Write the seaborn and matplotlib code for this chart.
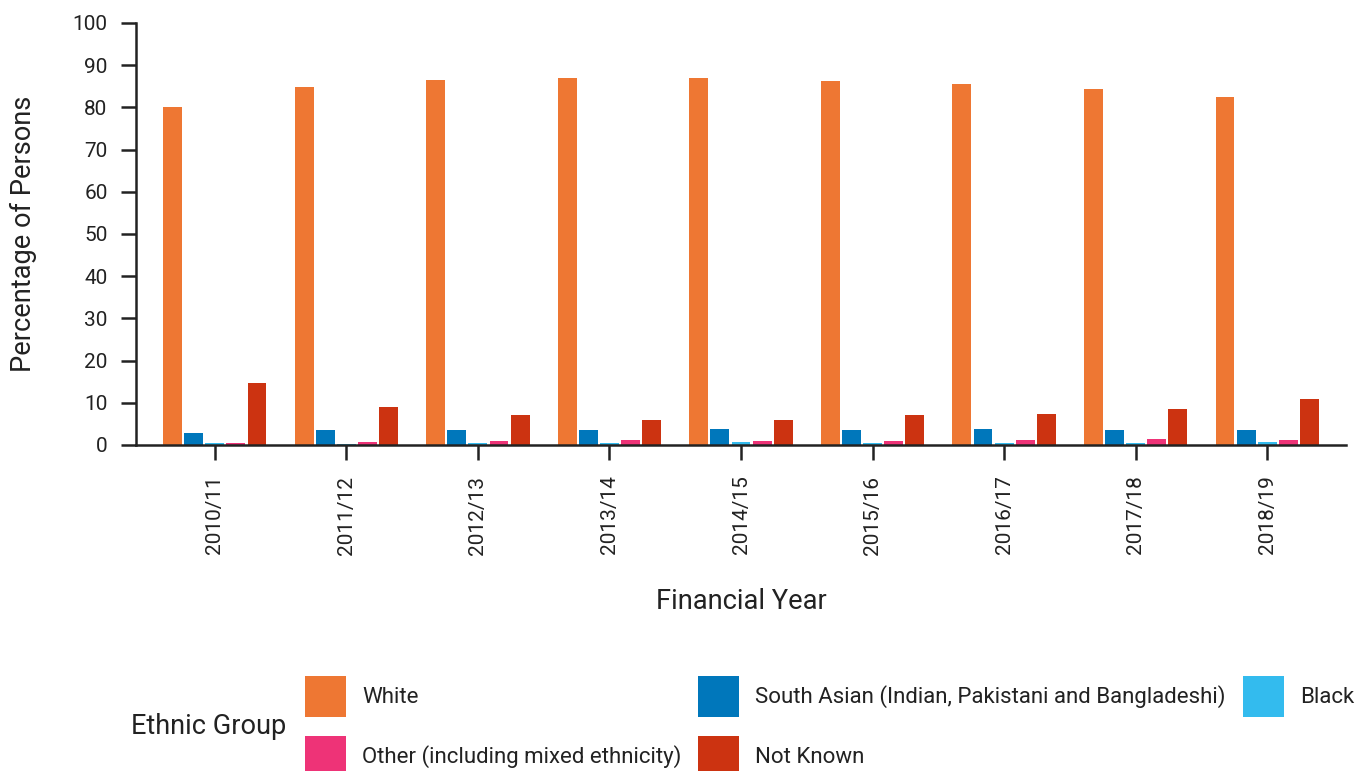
import matplotlib
matplotlib.use("Agg")
import matplotlib.pyplot as plt
import seaborn as sns
import pandas as pd

# ---- data ----
years = ["2010/11", "2011/12", "2012/13", "2013/14", "2014/15",
         "2015/16", "2016/17", "2017/18", "2018/19"]
groups = ["White", "South Asian (Indian, Pakistani and Bangladeshi)", "Black",
          "Other (including mixed ethnicity)", "Not Known"]
white = [80.0, 84.8, 86.4, 86.9, 86.9, 86.2, 85.5, 84.3, 82.4]
south_asian = [2.9, 3.6, 3.6, 3.6, 3.9, 3.6, 3.9, 3.6, 3.6]
black = [0.55, 0.3, 0.55, 0.55, 0.8, 0.55, 0.55, 0.55, 0.8]
other = [0.55, 0.8, 1.0, 1.26, 1.0, 1.0, 1.26, 1.5, 1.26]
not_known = [14.6, 9.1, 7.2, 6.0, 6.0, 7.2, 7.4, 8.6, 10.8]
colors = ["#EE7733", "#0077BB", "#33BBEE", "#EE3377", "#CC3311"]
yticks = [0, 10, 20, 30, 40, 50, 60, 70, 80, 90, 100]

series = [white, south_asian, black, other, not_known]
rows = []
for g, vals in zip(groups, series):
    for y, v in zip(years, vals):
        rows.append({"Financial Year": y, "Ethnic Group": g, "pct": v})
df = pd.DataFrame(rows)

sns.set_style("ticks")
plt.rcParams["font.family"] = ["Roboto", "DejaVu Sans"]
txt = "#222222"
plt.rcParams["text.color"] = txt
plt.rcParams["axes.labelcolor"] = txt
plt.rcParams["xtick.color"] = txt
plt.rcParams["ytick.color"] = txt

fig = plt.figure(figsize=(13.56, 7.71), dpi=100)
ax = fig.add_axes([136 / 1356, 1 - 445 / 771, 1210 / 1356, 422 / 771])

sns.barplot(data=df, x="Financial Year", y="pct", hue="Ethnic Group",
            hue_order=groups, order=years, palette=colors, saturation=1,
            width=0.8, gap=0.1, linewidth=0, errorbar=None, ax=ax)

ax.set_xlim(-0.6, 8.6)
ax.set_ylim(0, 100)
ax.set_yticks(yticks)
ax.set_yticklabels([str(t) for t in yticks])
sns.despine(ax=ax)
for s in ["left", "bottom"]:
    ax.spines[s].set_linewidth(1.8)
    ax.spines[s].set_color(txt)
ax.tick_params(axis="both", length=10.5, width=1.8, labelsize=15, pad=10)
ax.tick_params(axis="x", labelrotation=90, pad=11.5)

ax.set_xlabel("Financial Year", fontsize=19.6)
ax.set_ylabel("Percentage of Persons", fontsize=19.6)
ax.xaxis.set_label_coords(0.5, -0.338)
ax.yaxis.set_label_coords(-0.082, 0.5)

handles, labels = ax.get_legend_handles_labels()
if ax.get_legend():
    ax.get_legend().remove()
order = [0, 3, 1, 4, 2]
fs = 16
px = fs * 100 / 72
box = 41 / px
hh = (box - 0.245) / 0.65
fig.legend([handles[i] for i in order], [labels[i] for i in order],
           loc="upper left", bbox_to_anchor=(305 / 1356, 1 - 676 / 771),
           ncol=3, frameon=False, fontsize=fs, borderpad=0, borderaxespad=0,
           handlelength=box, handleheight=hh,
           handletextpad=16 / px, columnspacing=17 / px,
           labelspacing=(60 - 41) / px)
fig.text(131 / 1356, 1 - 727 / 771, "Ethnic Group", fontsize=19.5,
         ha="left", va="center")

fig.savefig("out.png", dpi=100)
